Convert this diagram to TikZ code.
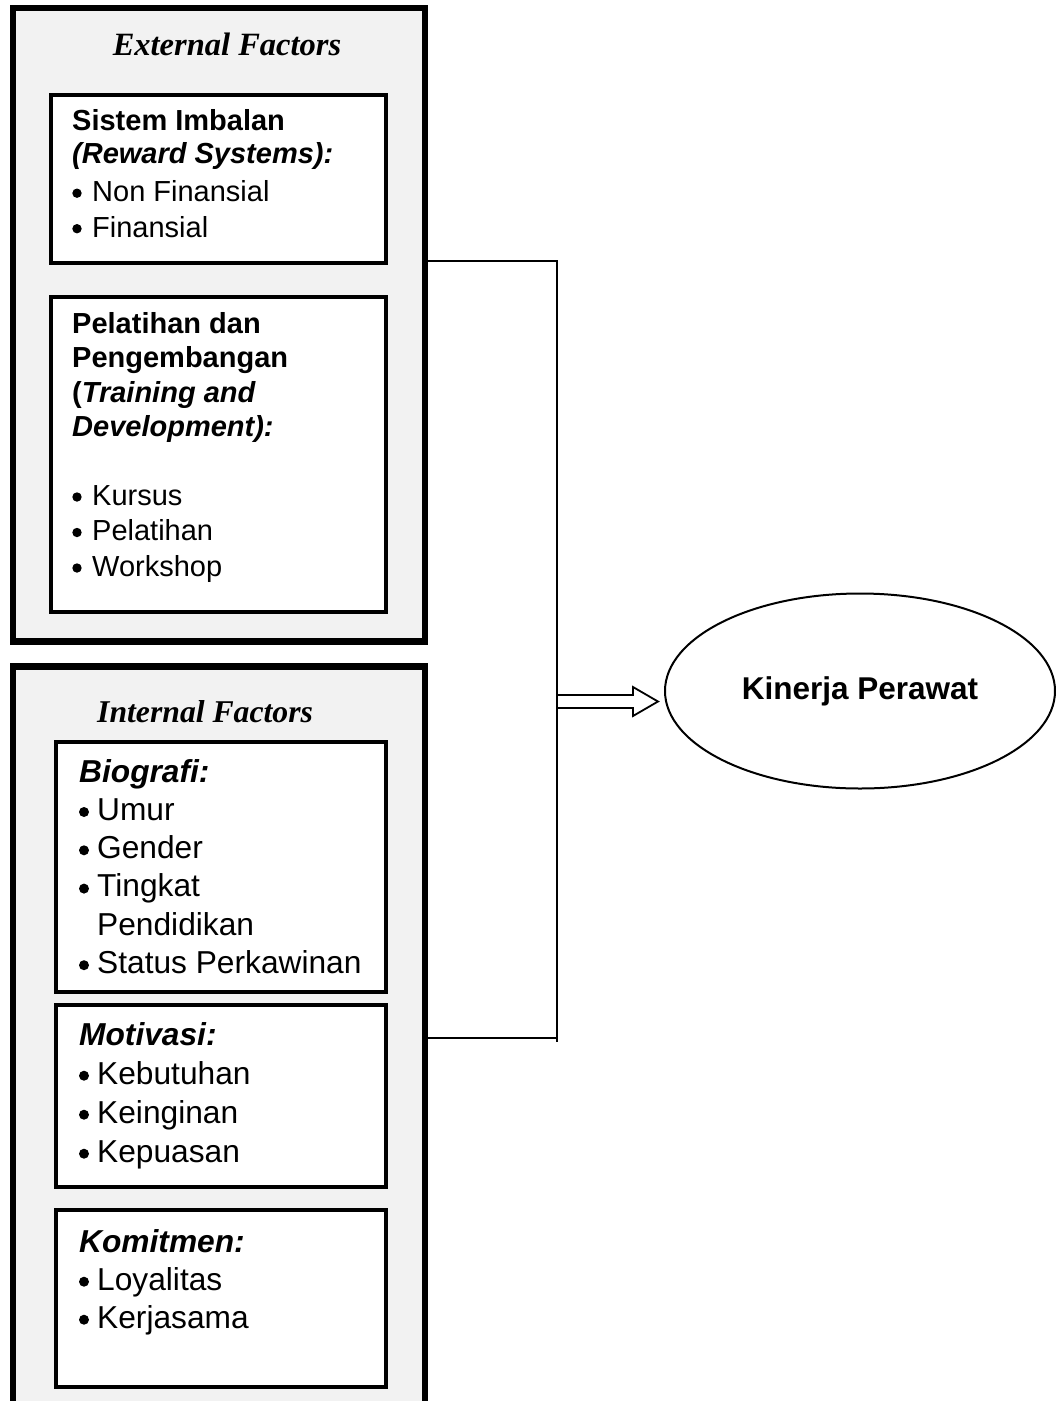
\documentclass[tikz,border=0pt]{standalone}
\usepackage{fontspec}
\setmainfont{Liberation Sans}
\newfontfamily\serifhead{Liberation Serif}
\usetikzlibrary{shapes.geometric}
\definecolor{panelgray}{HTML}{F2F2F2}
\begin{document}
\begin{tikzpicture}[x=1pt,y=-1pt,
  panel/.style={draw, line width=6.5pt, fill=panelgray, rectangle, outer sep=0pt, inner sep=0pt, anchor=north west},
  card/.style={draw, line width=4pt, fill=white, rectangle, outer sep=0pt, inner sep=0pt, anchor=north west},
  wire/.style={line width=1.8pt},
  txt/.style={inner sep=0pt, anchor=base west},
  exttxt/.style={txt, font=\fontsize{29}{35}\selectfont},
  inttxt/.style={txt, font=\fontsize{31.7}{38}\selectfont},
  head/.style={inner sep=0pt, font=\serifhead\bfseries\itshape\fontsize{32.5}{38}\selectfont},
]
\path[use as bounding box, clip] (0,0) rectangle (1056,1401);

% ---- grey panels ----
\node[panel, minimum width=412, minimum height=633.5] (extpanel) at (13,8) {};
\node[panel, minimum width=412, minimum height=800] (intpanel) at (13,666.5) {};

\node[head, anchor=base] (exthead) at (227,55) {External Factors};
\node[head, anchor=base west, font=\serifhead\bfseries\itshape\fontsize{31.7}{38}\selectfont] (inthead) at (97,722) {Internal Factors};

% ---- white cards ----
\node[card, minimum width=335, minimum height=168] (reward) at (50.5,94.5) {};
\node[card, minimum width=335, minimum height=315.5] (training) at (50.5,296.5) {};
\node[card, minimum width=330.5, minimum height=250.5] (bio) at (55.5,741.5) {};
\node[card, minimum width=330.5, minimum height=182] (motiv) at (55.5,1005) {};
\node[card, minimum width=330.5, minimum height=177] (komit) at (55.5,1210) {};

% ---- reward systems ----
\node[exttxt] (rw1) at (72,130) {\textbf{Sistem Imbalan}};
\node[exttxt] (rw2) at (72,163.3) {\textbf{\textit{(Reward Systems):}}};
\foreach \t [count=\i] in {Non Finansial, Finansial} {
  \fill (77,{193.2+35.5*(\i-1)}) circle (4.7pt);
  \node[exttxt] (rwi\i) at (92,{201.7+35.5*(\i-1)}) {\t};
}

% ---- training and development ----
\node[exttxt] (tr1) at (72,333) {\textbf{Pelatihan dan}};
\node[exttxt] (tr2) at (72,367.5) {\textbf{Pengembangan}};
\node[exttxt] (tr3) at (72,402) {\textbf{(\textit{Training and}}};
\node[exttxt] (tr4) at (72,436) {\textbf{\textit{Development):}}};
\foreach \t [count=\i] in {Kursus, Pelatihan, Workshop} {
  \fill (77,{497+35.5*(\i-1)}) circle (4.7pt);
  \node[exttxt] (tri\i) at (92,{505+35.5*(\i-1)}) {\t};
}

% ---- biography ----
\node[inttxt] (bh) at (79,782) {\textbf{\textit{Biografi:}}};
\foreach \t [count=\i] in {Umur, Gender, Tingkat} {
  \fill (84,{812+38.3*(\i-1)}) circle (5pt);
  \node[inttxt] (bi\i) at (97,{820.3+38.3*(\i-1)}) {\t};
}
\node[inttxt] (bi4) at (97,935.2) {Pendidikan};
\fill (84,965.2) circle (5pt);
\node[inttxt] (bi5) at (97,973.5) {Status Perkawinan};

% ---- motivation ----
\node[inttxt] (mh) at (79,1045) {\textbf{\textit{Motivasi:}}};
\foreach \t [count=\i] in {Kebutuhan, Keinginan, Kepuasan} {
  \fill (84,{1075.7+39*(\i-1)}) circle (5pt);
  \node[inttxt] (mi\i) at (97,{1084+39*(\i-1)}) {\t};
}

% ---- commitment ----
\node[inttxt] (kh) at (79,1252) {\textbf{\textit{Komitmen:}}};
\foreach \t [count=\i] in {Loyalitas, Kerjasama} {
  \fill (84,{1281.7+38*(\i-1)}) circle (5pt);
  \node[inttxt] (ki\i) at (97,{1290+38*(\i-1)}) {\t};
}

% ---- outcome ----
\node[draw, ellipse, line width=2pt, minimum width=390, minimum height=195, inner sep=0pt,
      font=\bfseries\fontsize{31.5}{36}\selectfont] (kinerja) at (860,691) {Kinerja Perawat};

% ---- connectors ----
\coordinate (jt) at (557,261);
\coordinate (jb) at (557,1038);
\coordinate (jend) at (557,1042);
\coordinate (ah) at (557,701.5);
\draw[wire] (extpanel.east |- jt) -- (jt) -- (jend);
\draw[wire] (intpanel.east |- jb) -- (jb);
\draw[wire, line join=miter] (ah) ++(0,-6.5) -- ++(76,0) -- ++(0,-8) -- ++(25,14.5)
      -- ++(-25,14.5) -- ++(0,-8) -- ++(-76,0);
\end{tikzpicture}
\end{document}
